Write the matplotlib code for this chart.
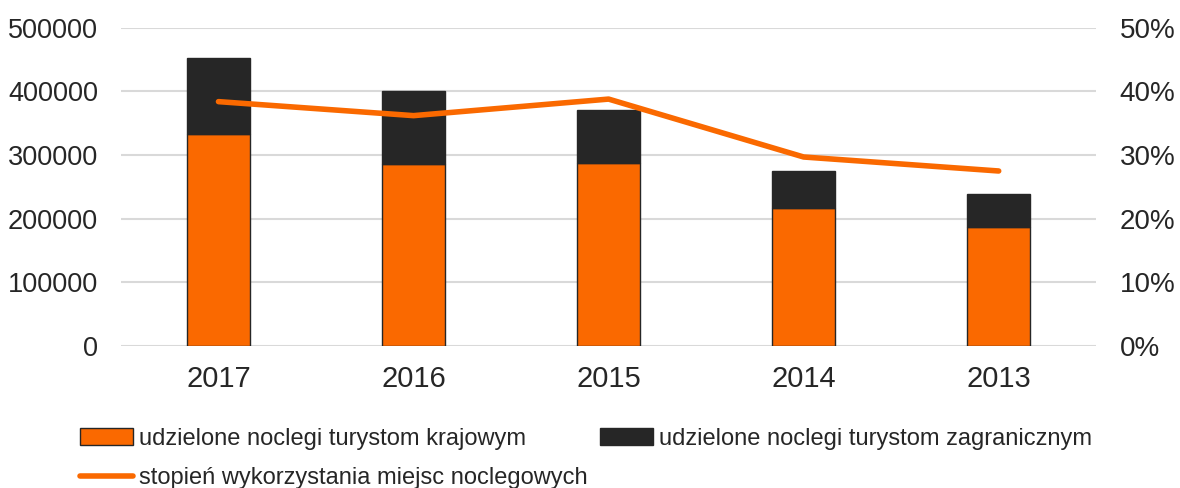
import matplotlib
matplotlib.use('Agg')
from matplotlib import pyplot as plt
from matplotlib.ticker import FuncFormatter

years = ['2017', '2016', '2015', '2014', '2013']
domestic = [333000, 286000, 287000, 217000, 187000]
foreign = [120000, 115000, 84000, 58000, 52000]
occupancy = [38.4, 36.2, 38.8, 29.7, 27.5]

labels = ['udzielone noclegi turystom krajowym',
          'udzielone noclegi turystom zagranicznym',
          'stopień wykorzystania miejsc noclegowych']

orange = '#fa6900'
dark = '#262626'

plt.rcParams['font.family'] = ['Liberation Sans', 'DejaVu Sans']

fig = plt.figure(figsize=(11.8, 4.88), dpi=100)
ax = fig.add_axes([0.1025, 0.291, 0.8265, 0.652])

x = range(len(years))
b1 = ax.bar(x, domestic, width=0.32, color=orange, edgecolor=dark, linewidth=1, zorder=2)
b2 = ax.bar(x, foreign, width=0.32, bottom=domestic, color=dark, edgecolor=dark,
            linewidth=1, zorder=2)

ax.set_ylim(0, 500000)
ax.set_xlim(-0.5, len(years) - 0.5)
ax.set_yticks(range(0, 500001, 100000))
ax.set_xticks(list(x))
ax.set_xticklabels(years)
ax.grid(axis='y', color='#d9d9d9', linewidth=1.5, zorder=0)
ax.set_axisbelow(True)
for s in ax.spines.values():
    s.set_visible(False)
ax.tick_params(length=0, labelsize=19.5, colors='#262626')
ax.tick_params(axis='x', pad=14, labelsize=21)
ax.tick_params(axis='y', pad=16.5)

ax2 = ax.twinx()
line, = ax2.plot(list(x), occupancy, color=orange, linewidth=4, solid_capstyle='round',
                 zorder=3)
ax2.set_ylim(0, 50)
ax2.set_yticks(range(0, 51, 10))
ax2.yaxis.set_major_formatter(FuncFormatter(lambda v, p: '{:.0f}%'.format(v)))
for s in ax2.spines.values():
    s.set_visible(False)
ax2.tick_params(length=0, labelsize=20, colors='#262626', pad=17)

# legend order: column-wise fill, so the line goes second
fig.legend([b1, line, b2], [labels[0], labels[2], labels[1]], ncol=2,
           loc='lower left', bbox_to_anchor=(0.050, -0.0455), frameon=False,
           fontsize=17, handlelength=2.25, handletextpad=0.25, columnspacing=0.5,
           labelspacing=0.72, labelcolor='#262626')

plt.savefig('out.png', dpi=100)
